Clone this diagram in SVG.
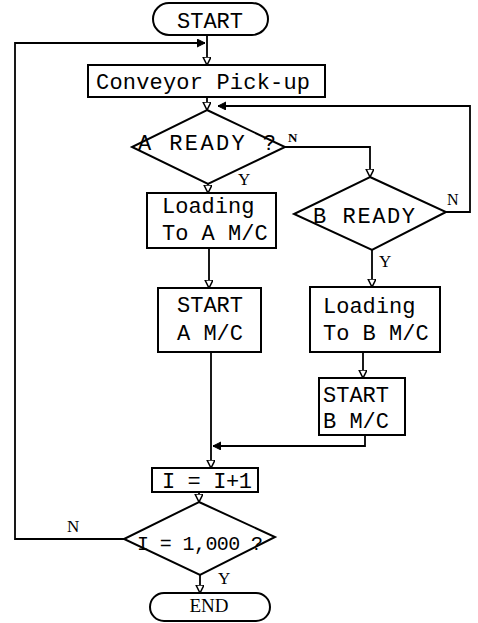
<svg xmlns="http://www.w3.org/2000/svg" width="478" height="623" viewBox="0 0 478 623">
<defs>
<marker id="open" markerUnits="userSpaceOnUse" markerWidth="12" markerHeight="12" refX="8" refY="4" orient="auto">
<path d="M0,0 L8,4 L0,8 Z" fill="#fff" stroke="#000" stroke-width="1.5"/>
</marker>
<marker id="fill" markerUnits="userSpaceOnUse" markerWidth="12" markerHeight="12" refX="8" refY="4" orient="auto">
<path d="M0,0 L8,4 L0,8 Z" fill="#000" stroke="#000" stroke-width="1"/>
</marker>
<style>
.s{fill:#fff;stroke:#000;stroke-width:2}
.c{fill:none;stroke:#000;stroke-width:1.8}
.t{font-family:"Liberation Mono","Courier New",monospace;font-size:22px;fill:#000}
.l{font-family:"Liberation Serif","Times New Roman",serif;font-size:17px;fill:#000}
</style>
</defs>
<rect width="478" height="623" fill="#fff"/>
<g id="connectors">
<line class="c" x1="207" y1="35" x2="207" y2="65" marker-end="url(#open)"/>
<polyline class="c" points="124,539 15,539 15,43 205,43" marker-end="url(#fill)"/>
<line class="c" x1="207" y1="97" x2="207" y2="110" marker-end="url(#open)"/>
<polyline class="c" points="446,212 470,212 470,106 218,106" marker-end="url(#fill)"/>
<polyline class="c" points="285,147 370,147 370,177" marker-end="url(#open)"/>
<line class="c" x1="208" y1="184" x2="208" y2="193" marker-end="url(#open)"/>
<line class="c" x1="209" y1="248" x2="209" y2="288" marker-end="url(#open)"/>
<line class="c" x1="211" y1="352" x2="211" y2="468" marker-end="url(#open)"/>
<line class="c" x1="372" y1="250" x2="372" y2="287" marker-end="url(#open)"/>
<line class="c" x1="363" y1="352" x2="363" y2="378" marker-end="url(#open)"/>
<polyline class="c" points="365,435 365,446 213,446" marker-end="url(#fill)"/>
<line class="c" x1="199" y1="492" x2="199" y2="502" marker-end="url(#open)"/>
<line class="c" x1="200" y1="575" x2="200" y2="593" marker-end="url(#open)"/>
<text class="l" x="288" y="142" style="font-size:13px;font-weight:bold">N</text>
<text class="l" x="238" y="185">Y</text>
<text class="l" x="447" y="205" style="font-size:16px">N</text>
<text class="l" x="379" y="267">Y</text>
<text class="l" x="67" y="532">N</text>
<text class="l" x="218" y="584">Y</text>
</g>
<g id="start">
<rect class="s" x="153" y="3" width="115" height="32" rx="16"/>
<text class="t" x="210" y="28" text-anchor="middle">START</text>
</g>
<g id="conveyor">
<rect class="s" x="88" y="65" width="237" height="32"/>
<text class="t" x="96" y="89" textLength="214">Conveyor Pick-up</text>
</g>
<g id="aready">
<polygon class="s" points="207,110 285,147 208,184 132,147"/>
<text class="t" x="138" y="150" textLength="138">A READY ?</text>
</g>
<g id="loadA">
<rect class="s" x="147" y="193" width="129" height="55"/>
<text class="t" x="162" y="213">Loading</text>
<text class="t" x="162" y="240">To A M/C</text>
</g>
<g id="startA">
<rect class="s" x="158" y="288" width="103" height="64"/>
<text class="t" x="177" y="312">START</text>
<text class="t" x="177" y="340">A M/C</text>
</g>
<g id="bready">
<polygon class="s" points="370,177 446,212 372,250 294,214"/>
<text class="t" x="313" y="223" textLength="102">B READY</text>
</g>
<g id="loadB">
<rect class="s" x="310" y="287" width="130" height="65"/>
<text class="t" x="323" y="313">Loading</text>
<text class="t" x="323" y="340">To B M/C</text>
</g>
<g id="startB">
<rect class="s" x="319" y="378" width="86" height="57"/>
<text class="t" x="323" y="402">START</text>
<text class="t" x="323" y="428">B M/C</text>
</g>
<g id="incr">
<rect class="s" x="152" y="468" width="106" height="24"/>
<text class="t" x="162" y="488" textLength="90">I = I+1</text>
</g>
<g id="check">
<polygon class="s" points="199,502 275,537 200,575 124,539"/>
<text class="t" x="137" y="550" textLength="126" style="font-size:20px">I = 1,000 ?</text>
</g>
<g id="end">
<rect class="s" x="150" y="593" width="120" height="28" rx="14"/>
<text class="l" x="209" y="612" text-anchor="middle" style="font-size:19px">END</text>
</g>
</svg>
